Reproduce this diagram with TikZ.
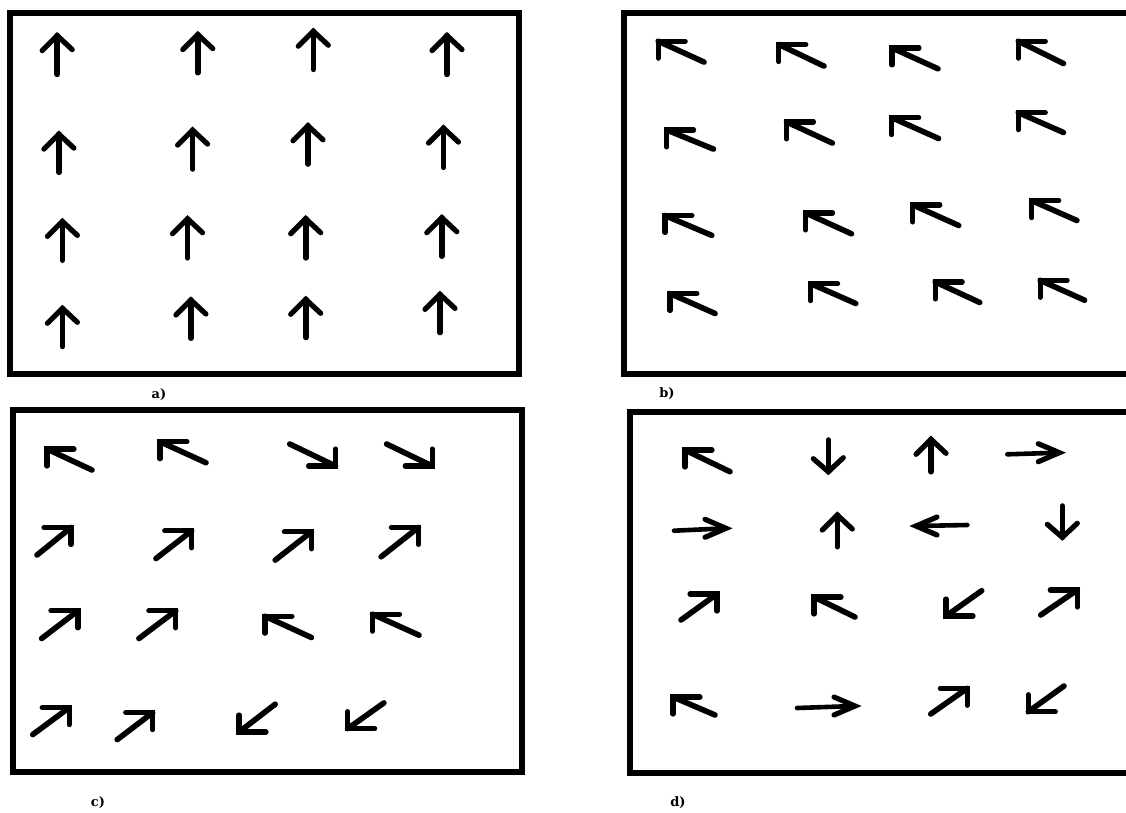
\documentclass[tikz,border=0pt]{standalone}
\usepackage{fontspec}
\newfontfamily\lblfont{DejaVu Serif}
\tikzset{
  frame/.style={draw=black,line width=6pt},
  shaft/.style={draw=black,line width=5.6pt,line cap=round},
  barb/.style={draw=black,line width=5.2pt,line cap=round,line join=miter},
  hshaft/.style={draw=black,line width=4.6pt,line cap=round},
  lbl/.style={font=\lblfont\bfseries\fontsize{13}{13}\selectfont,inner sep=0pt,text=black}
}
% generic arrow: tip, tail, barb1, barb2
\newcommand{\arw}[5][shaft]{\draw[#1] #3 -- #2; \draw[barb] #2 ++#4 -- #2 -- ++#5;}
\newcommand{\arNW}[2]{\arw{#1}{#2}{(27,0)}{(0,17)}}
\newcommand{\arNE}[2]{\arw{#1}{#2}{(-27,0)}{(0,17)}}
\newcommand{\arSE}[2]{\arw{#1}{#2}{(-27,0)}{(0,-17)}}
\newcommand{\arSW}[2]{\arw{#1}{#2}{(27,0)}{(0,-17)}}
\newcommand{\arUP}[2]{\arw{#1}{#2}{(-15,15)}{(15,14)}}
\newcommand{\arDN}[2]{\arw{#1}{#2}{(-15,-13)}{(15,-14)}}
\newcommand{\arRT}[2]{\arw[hshaft]{#1}{#2}{(-21,-9)}{(-21,9)}}
\newcommand{\arLT}[2]{\arw[hshaft]{#1}{#2}{(21,-9)}{(21,9)}}
\begin{document}
\begin{tikzpicture}[x=1pt,y=-1pt]
\clip (0,0) rectangle (1126,812);
\fill[white] (0,0) rectangle (1126,812);
% frames
\draw[frame] (10,13) rectangle (519,374);
\draw[frame] (623.5,13) rectangle (1145,374);
\draw[frame] (13,410) rectangle (522,772);
\draw[frame] (630,412) rectangle (1145,773);
% labels
\node[lbl] (la) at (159,395) {a)};
\node[lbl] (lb) at (667,394) {b)};
\node[lbl] (lc) at (98,803) {c)};
\node[lbl] (ld) at (678,803) {d)};
% ---- a) ----
\arUP{(57.2,35.6)}{(57.2,74.4)}
\arUP{(197.8,34.6)}{(197.8,72.7)}
\arUP{(313.3,31.2)}{(313.3,69.4)}
\arUP{(447,35.6)}{(447,74.4)}
\arUP{(58.9,134.1)}{(58.9,172.3)}
\arUP{(192.6,130.1)}{(192.6,169)}
\arUP{(308,125.8)}{(308,164)}
\arUP{(443.5,128.1)}{(443.5,167.3)}
\arUP{(62.4,221.4)}{(62.4,260.2)}
\arUP{(187.5,218.7)}{(187.5,257.9)}
\arUP{(305.7,218.7)}{(305.7,257.9)}
\arUP{(441.8,217.7)}{(441.8,256.2)}
\arUP{(62.4,308.3)}{(62.4,346.5)}
\arUP{(190.9,300)}{(190.9,338.2)}
\arUP{(305.7,299.3)}{(305.7,337.5)}
\arUP{(440,294.4)}{(440,332.5)}
% ---- b) ----
\arNW{(658.2,41.2)}{(704.1,62.1)}
\arNW{(778.8,44.5)}{(824,66.1)}
\arNW{(892,47.9)}{(938,68.8)}
\arNW{(1018.3,41.2)}{(1063.5,63.5)}
\arNW{(666.6,129.9)}{(713.5,149.1)}
\arNW{(786.5,121.9)}{(832.4,143.1)}
\arNW{(891.7,117.6)}{(938.6,138.5)}
\arNW{(1018.3,112.6)}{(1063.5,132.5)}
\arNW{(664.9,215.5)}{(711.8,235.4)}
\arNW{(805.6,212.9)}{(851.5,233.8)}
\arNW{(912.8,204.9)}{(958.7,225.5)}
\arNW{(1031.7,200.6)}{(1076.9,220.5)}
\arNW{(669.9,293.5)}{(715.1,313.5)}
\arNW{(810.6,283.6)}{(855.8,303.5)}
\arNW{(935.2,281.9)}{(979.8,302.5)}
\arNW{(1040.1,280.3)}{(1084.6,300.2)}
% ---- c) ----
\arNW{(47,449)}{(92,470)}
\arNW{(160,441.7)}{(206,462.7)}
\arSE{(335.6,466)}{(289.7,444)}
\arSE{(432.2,466)}{(386.6,444)}
\arNE{(71,527.5)}{(37,555)}
\arNE{(191.7,530.8)}{(156,558.5)}
\arNE{(311.4,531.8)}{(275.2,560.1)}
\arNE{(418.4,527.4)}{(381.1,556.8)}
\arNE{(77.9,610.8)}{(41.6,638.5)}
\arNE{(175.8,610.8)}{(138.9,638.5)}
\arNW{(264.9,616.2)}{(311.4,637.5)}
\arNW{(372.5,614.2)}{(419.1,635.2)}
\arNE{(69.2,707.6)}{(32.7,734.6)}
\arNE{(152.7,712.6)}{(117.2,739.6)}
\arSW{(239,732)}{(275.2,704.2)}
\arSW{(347.7,728.6)}{(383.9,702.9)}
% ---- d) ----
\arNW{(685,450)}{(730,471.7)}
\arDN{(828.3,471.7)}{(828.3,440)}
\arUP{(931,439.3)}{(931,471.7)}
\arRT{(1059.3,452.7)}{(1007.3,454.3)}
\arRT{(726,528.3)}{(674,530.7)}
\arUP{(837.3,515)}{(837.3,546.7)}
\arLT{(916,526)}{(967.3,525)}
\arDN{(1062.3,537.3)}{(1062.3,506)}
\arNE{(717,594)}{(681,620)}
\arNW{(814,597)}{(855,617)}
\arSW{(946,616)}{(981.7,590.7)}
\arNE{(1077.3,590)}{(1040.7,615)}
\arNW{(673,697)}{(715,715)}
\arRT{(855,706)}{(797,708)}
\arNE{(967.3,688.3)}{(930.7,714)}
\arSW{(1028.3,711.7)}{(1064,686)}
\end{tikzpicture}
\end{document}
